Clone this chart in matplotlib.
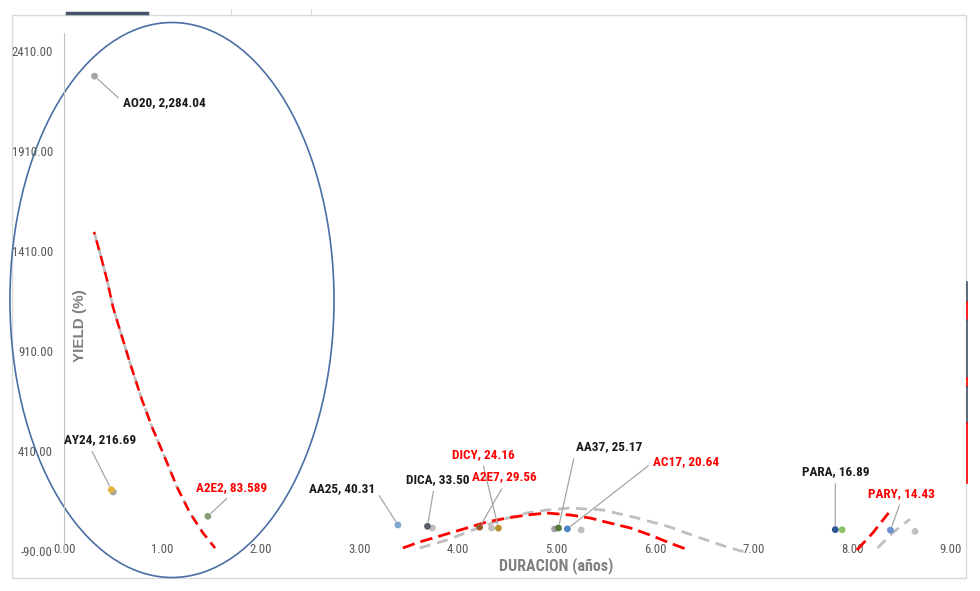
import numpy as np
import matplotlib
matplotlib.use('Agg')
import matplotlib.pyplot as plt
from matplotlib.patches import Ellipse, Rectangle
from matplotlib.lines import Line2D

# bonos: duracion (años) / yield (%)
names = ['AO20', 'AY24', 'A2E2', 'AA25', 'DICA', 'DICY', 'A2E7', 'AA37', 'AC17', 'PARA', 'PARY']
label_vals = ['2,284.04', '216.69', '83.589', '40.31', '33.50', '24.16', '29.56', '25.17', '20.64', '16.89', '14.43']
duration = [0.31, 0.48, 1.46, 3.39, 3.69, 4.41, 4.22, 5.02, 5.11, 7.83, 8.39]
yields = [2284.04, 216.69, 83.589, 40.31, 33.50, 24.16, 29.56, 25.17, 20.64, 16.89, 14.43]
point_colors = ['#A5A5A5', '#E2B33C', '#8C9C7A', '#7EA6CF', '#5B5F6B', '#B8902A',
                '#9A5A2C', '#4F7A3A', '#4A86C8', '#2F5597', '#6A93D0']
red_label = [False, False, True, False, False, True, True, False, True, False, True]

# puntos sin etiqueta (series grises / otras)
extra_x = [0.50, 3.74, 4.34, 4.98, 5.25, 7.90, 8.64]
extra_y = [205, 25, 25, 20, 15, 16, 8]
extra_colors = ['#A5A5A5', '#BFBFBF', '#BFBFBF', '#A5A5A5', '#BFBFBF', '#8CC168', '#BFBFBF']

# lineas de tendencia
trend_a_x = [0.305, 0.365, 0.437, 0.497, 0.589, 0.670, 0.792, 0.893, 1.005, 1.147, 1.279, 1.411, 1.533]
trend_a_y = [1505, 1400, 1265, 1130, 980, 850, 665, 530, 400, 230, 100, 0, -75]
trend_red_x = [3.44, 3.61, 3.85, 4.09, 4.29, 4.50, 4.70, 4.90, 5.14, 5.34, 5.54, 5.75, 5.95, 6.15, 6.34]
trend_red_y = [-75, -45, -10, 25, 55, 75, 90, 100, 90, 75, 50, 25, -10, -50, -85]
trend_gray_x = [3.61, 3.89, 4.15, 4.43, 4.70, 4.90, 5.14, 5.47, 5.82, 6.15, 6.43, 6.73, 6.91]
trend_gray_y = [-75, -35, 15, 65, 100, 115, 125, 115, 75, 30, -20, -70, -95]
trend_red2_x = [8.05, 8.21, 8.37]
trend_red2_y = [-85, 0, 100]
trend_gray2_x = [8.26, 8.41, 8.59]
trend_gray2_y = [-75, 0, 70]

xticks = [0, 1, 2, 3, 4, 5, 6, 7, 8, 9]
yticks = [-90, 410, 910, 1410, 1910, 2410]

narrow = ['Roboto Condensed', 'Arial Narrow', 'Liberation Sans', 'DejaVu Sans']
wide = ['Liberation Sans', 'DejaVu Sans']

fig = plt.figure(figsize=(9.8, 5.91), dpi=100)
ax = fig.add_axes([12 / 980, 13 / 591, 954 / 980, 563 / 591])
ax.set_xlim(-0.528, 9.157)
ax.set_ylim(-225, 2590)

# marco
ax.add_patch(Rectangle((0, 0), 1, 1, transform=ax.transAxes, fill=False,
                       edgecolor='#D9D9D9', lw=1.0, clip_on=False))

# ejes
for s in ['top', 'right']:
    ax.spines[s].set_visible(False)
ax.spines['left'].set_position(('data', 0))
ax.spines['left'].set_bounds(-90, 2500)
ax.spines['left'].set_color('#BFBFBF')
ax.spines['bottom'].set_position(('data', -90))
ax.spines['bottom'].set_visible(False)

ax.set_xticks(xticks)
ax.set_xticklabels(['{:.2f}'.format(v) for v in xticks], family=narrow, fontsize=9.2, color='#595959')
ax.set_yticks(yticks)
ax.set_yticklabels(['{:.2f}'.format(v) for v in yticks], family=narrow, fontsize=9.2, color='#595959')
ax.tick_params(axis='x', length=0, pad=-6)
ax.tick_params(axis='y', length=0, pad=8)

ax.set_xlabel('DURACION (años)', fontsize=11.5, fontweight='bold', color='#808080', va='center',
              family=narrow)
ax.xaxis.set_label_coords((556 - 12) / 954, (578 - 566) / 563)
ax.set_ylabel('YIELD (%)', fontsize=11, fontweight='bold', color='#808080', va='center',
              family=wide)
ax.yaxis.set_label_coords((80 - 12) / 954, (578 - 326) / 563)

# tendencias
ax.plot(trend_a_x, trend_a_y, color='#BFBFBF', lw=2.0, ls=(0, (4, 2)), zorder=2)
ax.plot(trend_a_x, trend_a_y, color='#FF0000', lw=1.8, ls=(3, (4, 2.5)), zorder=3)
ax.plot(trend_gray_x, trend_gray_y, color='#BFBFBF', lw=2.0, ls=(0, (4, 2.5)), zorder=2)
ax.plot(trend_red_x, trend_red_y, color='#FF0000', lw=2.0, ls=(0, (4.5, 2.2)), zorder=3)
ax.plot(trend_gray2_x, trend_gray2_y, color='#BFBFBF', lw=2.0, ls=(0, (4, 2.5)), zorder=2)
ax.plot(trend_red2_x, trend_red2_y, color='#FF0000', lw=2.0, ls=(0, (4.5, 2.2)), zorder=3)

# puntos
ax.scatter(extra_x, extra_y, s=24, c=extra_colors, zorder=4, linewidths=0)
ax.scatter(duration, yields, s=24, c=point_colors, zorder=5, linewidths=0)

# etiquetas (offset en pixeles, punto de anclaje de la linea guia)
offsets = [(70, -26), (-11, 50), (24, 29), (-56, 36), (10, 47), (-15, 74),
           (25, 50), (51, 81), (119, 67), (0, 58), (11, 37)]
relpos = [(0, 0.5), (0.35, 0), (0.5, 0), (1, 0.5), (0.45, 0), (0.48, 0),
          (0.5, 0), (0, 0.5), (0, 0.5), (0.5, 0), (0.5, 0)]
for i in range(len(names)):
    col = '#FF0000' if red_label[i] else '#1A1A1A'
    ax.annotate('{}, {}'.format(names[i], label_vals[i]),
                xy=(duration[i], yields[i]), xytext=offsets[i], textcoords='offset pixels',
                ha='center', va='center', fontsize=9.5, fontweight='bold', color=col,
                family=narrow, zorder=6,
                arrowprops=dict(arrowstyle='-', color='#A6A6A6', lw=0.9,
                                relpos=relpos[i], shrinkA=2, shrinkB=3))

# ovalo
ax.add_patch(Ellipse((1.096, 1165), 3.29, 2775, fill=False, edgecolor='#4A6FA5',
                     lw=1.2, clip_on=False, zorder=1))

# restos de otros objetos de la hoja
fig.add_artist(Line2D([67 / 980, 147 / 980], [1 - 13 / 591] * 2, lw=2.5, color='#44546A'))
for px in [231, 311]:
    fig.add_artist(Line2D([px / 980] * 2, [1 - 9 / 591, 1 - 15 / 591], lw=0.8, color='#D9D9D9'))
edge = [(282, 302, '#44546A'), (302, 320, '#FF0000'), (320, 378, '#44546A'),
        (378, 387, '#FF0000'), (387, 423, '#44546A'), (423, 483, '#FF0000')]
for y0, y1, c in edge:
    fig.add_artist(Line2D([967 / 980] * 2, [1 - y0 / 591, 1 - y1 / 591], lw=1.2, color=c))

fig.savefig('out.png', dpi=100)
